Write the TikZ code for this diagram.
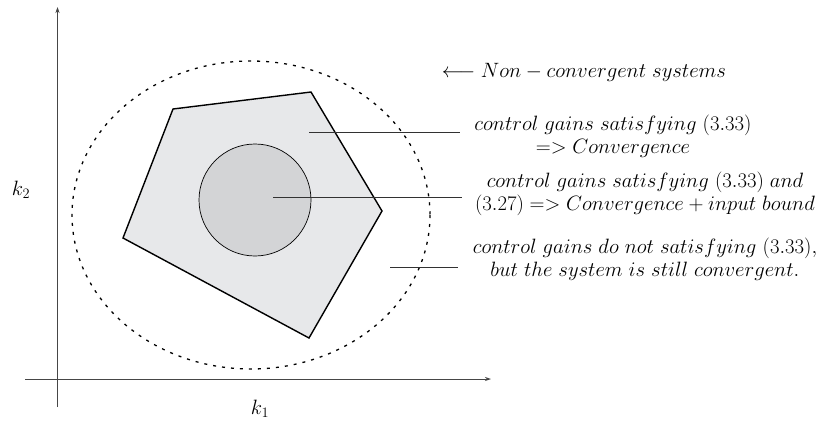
\documentclass[tikz,border=0pt]{standalone}
\usepackage{amsmath}
\usetikzlibrary{arrows.meta}
\definecolor{polyfill}{RGB}{231,232,234}
\definecolor{circfill}{RGB}{211,212,214}
\definecolor{axisgray}{RGB}{70,70,70}
\definecolor{leadgray}{RGB}{50,50,50}
\tikzset{
  axisline/.style={draw=axisgray, line width=0.8pt, -{Stealth[length=6pt,width=4pt]}},
  leader/.style={draw=leadgray, line width=0.7pt},
  lbl/.style={font=\fontsize{20}{22.5}\selectfont, align=center, inner sep=0pt},
}
\begin{document}
\begin{tikzpicture}[x=1pt,y=-1pt]
\useasboundingbox (0,0) rectangle (826,426);
% axes
\coordinate (yb) at (57.5,407);
\coordinate (yt) at (57.5,7);
\coordinate (xl) at (25,379);
\coordinate (xr) at (491,379);
\draw[axisline] (yb) -- (yt);
\draw[axisline] (xl) -- (xr);
\node[lbl] (k2) at (21,190) {$k_2$};
\node[lbl] (k1) at (260,409) {$k_1$};
% dotted ellipse
\draw[line width=1.3pt, dash pattern=on 3pt off 6pt] (251,215) ellipse [x radius=179, y radius=154];
% polygon
\coordinate (p1) at (173,109);
\coordinate (p2) at (311,92);
\coordinate (p3) at (382,211);
\coordinate (p4) at (309,338);
\coordinate (p5) at (123,238);
\draw[fill=polyfill, line width=1.4pt, line join=miter] (p1) -- (p2) -- (p3) -- (p4) -- (p5) -- cycle;
% circle
\draw[fill=circfill, line width=0.7pt] (255,200) circle [radius=56];
% labels
\node[lbl] (t1) at (584,72) {$\longleftarrow Non-convergent\ systems$};
\node[lbl] (t2) at (613,136) {$control\ gains\ satisfying\ (3.33)$\\ $=>Convergence$};
\node[lbl] (t3) at (645,194) {$control\ gains\ satisfying\ (3.33)\ and$\\ $(3.27)=>Convergence+input\ bound$};
\node[lbl] (t4) at (645,259) {$control\ gains\ do\ not\ satisfying\ (3.33),$\\ $but\ the\ system\ is\ still\ convergent.$};
% leaders
\coordinate (l1a) at (309,132);
\coordinate (l1b) at (460,132);
\coordinate (l2a) at (273,197);
\coordinate (l2b) at (462,197);
\coordinate (l3a) at (390,267);
\coordinate (l3b) at (458,267);
\draw[leader] (l1a) -- (l1b);
\draw[leader] (l2a) -- (l2b);
\draw[leader] (l3a) -- (l3b);
\end{tikzpicture}
\end{document}
